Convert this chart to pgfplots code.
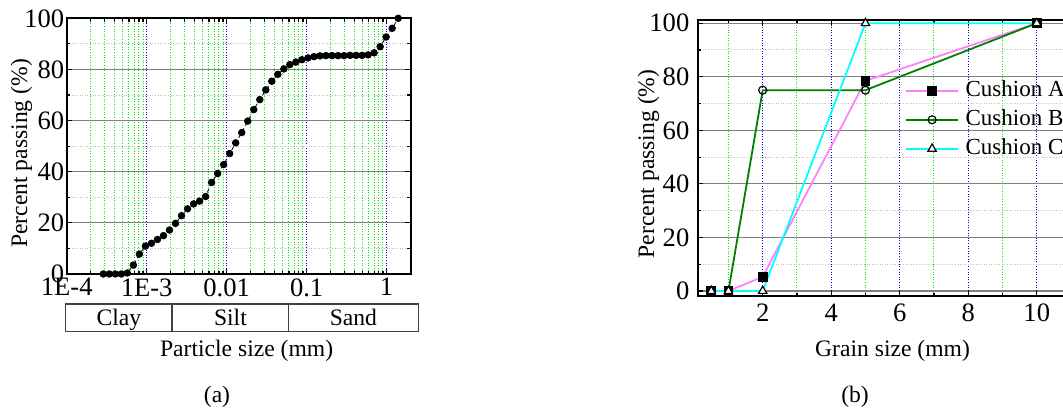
\documentclass[border=0pt]{standalone}
\usepackage{pgfplots}
\pgfplotsset{compat=1.18}
\usepackage{fontspec}
\setmainfont{Liberation Serif}
\definecolor{gbright}{RGB}{0,235,0}
\definecolor{bdot}{RGB}{0,0,255}
\definecolor{cushA}{RGB}{255,128,255}
\definecolor{cushB}{RGB}{0,128,0}
\definecolor{cushC}{RGB}{0,255,255}
\pgfplotsset{
  common/.style={
    scale only axis,
    axis line style={line width=0.9pt},
    tick align=inside,
    major tick length=2.8pt,
    minor tick length=1.7pt,
    tick style={black, line width=0.6pt},
    grid=both,
    major x grid style={bdot, line width=0.5pt, dash pattern=on 0.5pt off 0.8pt},
    minor x grid style={gbright, line width=0.5pt, dash pattern=on 0.5pt off 0.8pt},
    major y grid style={gray, line width=0.6pt},
    minor y grid style={black!25, line width=0.5pt, dash pattern=on 0.5pt off 0.8pt},
    ticklabel style={font=\fontsize{13.3}{15}\selectfont},
    /pgf/number format/assume math mode=true,
  }
}
\begin{document}
\fontsize{11.8}{14}\selectfont
\begin{tikzpicture}
\useasboundingbox (0pt,0pt) rectangle (531.5pt,204pt);
\clip (0pt,0pt) rectangle (531.5pt,204pt);
% ---------------- panel (a)
\begin{axis}[common,
  at={(33.35pt,67pt)}, anchor=south west,
  width=172pt, height=127.85pt,
  xmode=log, xmin=1e-4, xmax=2, ymin=0, ymax=100,
  xtick={1e-4,1e-3,1e-2,1e-1,1},
  xticklabels={1E-4,1E-3,0.01,0.1,1},
  minor xtick={2e-4,3e-4,4e-4,5e-4,6e-4,7e-4,8e-4,9e-4,
               2e-3,3e-3,4e-3,5e-3,6e-3,7e-3,8e-3,9e-3,
               2e-2,3e-2,4e-2,5e-2,6e-2,7e-2,8e-2,9e-2,
               0.2,0.3,0.4,0.5,0.6,0.7,0.8,0.9},
  ytick={0,20,40,60,80,100},
  minor ytick={10,30,50,70,90},
  yticklabel style={inner sep=1pt},
  xticklabel style={inner sep=2pt},
]
\addplot[black, line width=0.4pt, dash pattern=on 2pt off 1.5pt,
  mark=*, mark size=1.65pt, mark options={solid, fill=black}] coordinates {
(2.868e-4,0) (3.410e-4,0) (4.055e-4,0) (4.822e-4,0) (5.734e-4,0.4)
(6.818e-4,3.5) (8.110e-4,7.8) (9.643e-4,10.9) (1.147e-3,12.0) (1.364e-3,13.5)
(1.622e-3,15.0) (1.929e-3,17.2) (2.293e-3,19.8) (2.727e-3,22.8) (3.243e-3,25.5)
(3.857e-3,27.4) (4.587e-3,28.5) (5.453e-3,30.3) (6.486e-3,35.8) (7.713e-3,39.3)
(9.173e-3,42.8) (1.0907e-2,47.1) (1.297e-2,51.3) (1.543e-2,55.3) (1.834e-2,59.8)
(2.182e-2,64.3) (2.594e-2,68.2) (3.085e-2,72.0) (3.668e-2,75.4) (4.362e-2,78.1)
(5.188e-2,80.2) (6.169e-2,81.9) (7.336e-2,82.9) (8.723e-2,83.8) (0.1038,84.5)
(0.1234,85.0) (0.1467,85.3) (0.1745,85.4) (0.2075,85.4) (0.2467,85.4)
(0.2934,85.4) (0.3489,85.5) (0.4150,85.5) (0.4934,85.5) (0.5868,85.7)
(0.6979,86.5) (0.8299,88.9) (0.9868,92.7) (1.1734,96.1) (1.3956,100)
};
\end{axis}
% classification box
\draw[black!75, line width=0.6pt] (32.8pt,38.2pt) rectangle (209.2pt,52pt);
\draw[black!75, line width=0.6pt] (86pt,38.2pt) -- (86pt,52pt);
\draw[black!75, line width=0.6pt] (144.3pt,38.2pt) -- (144.3pt,52pt);
\node[anchor=base] at (59.4pt,41.5pt) {Clay};
\node[anchor=base] at (115.2pt,41.5pt) {Silt};
\node[anchor=base] at (176.7pt,41.5pt) {Sand};
\node[anchor=base] at (123.3pt,26pt) {Particle size (mm)};
\node[rotate=90] at (10.8pt,127.25pt) {Percent passing (\%)};
\node[anchor=base] at (108.5pt,3pt) {(a)};
% ---------------- panel (b)
\begin{axis}[common,
  at={(348.8pt,56pt)}, anchor=south west,
  width=186.7pt, height=138pt,
  xmin=0.1, xmax=11, ymin=-1.87, ymax=101.2,
  xtick={2,4,6,8,10}, minor xtick={1,3,5,7,9},
  ytick={0,20,40,60,80,100},
  minor ytick={10,30,50,70,90},
  legend cell align=left,
  legend style={draw=none, fill=none, inner sep=0pt, row sep=0pt,
    column sep=2pt,
    at={(axis description cs:0.5554,0.7975)}, anchor=north west,
    nodes={inner sep=1.4pt, text height=8.6pt, text depth=3.1pt,
      font=\fontsize{11.5}{13.5}\selectfont}},
  legend image code/.code={\draw[#1, mark repeat=2, mark phase=2]
    plot coordinates {(0pt,0pt) (12.9pt,0pt) (25.8pt,0pt)};},
]
\addplot[cushA, line width=0.9pt, mark=square*, mark size=2pt,
  mark options={draw=black, fill=black}] coordinates {
(0.5,0) (1,0) (2,5.3) (5,78.5) (10,100)};
\addlegendentry{Cushion A}
\addplot[cushB, line width=0.9pt, mark=o, mark size=2pt,
  mark options={draw=black, fill=white, line width=0.6pt}] coordinates {
(0.5,0) (1,0) (2,75) (5,75) (10,100)};
\addlegendentry{Cushion B}
\addplot[cushC, line width=0.9pt, mark=triangle*, mark size=2.4pt,
  mark options={draw=black, fill=white, line width=0.6pt}] coordinates {
(0.5,0) (1,0) (2,0) (5,100) (10,100)};
\addlegendentry{Cushion C}
\end{axis}
\node[anchor=base] at (446.25pt,26pt) {Grain size (mm)};
\node[rotate=90] at (324.2pt,122pt) {Percent passing (\%)};
\node[anchor=base] at (427.5pt,3pt) {(b)};
\end{tikzpicture}
\end{document}
